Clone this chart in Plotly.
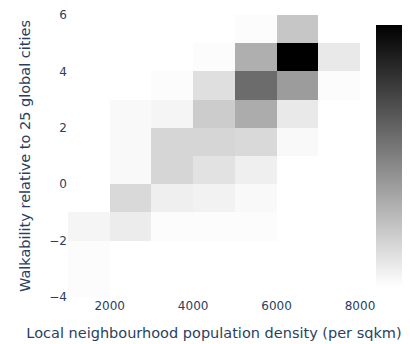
import plotly.graph_objects as go

# Bin centres
density_bins = [1500, 2500, 3500, 4500, 5500, 6500, 7500]
walk_bins = [-3.5, -2.5, -1.5, -0.5, 0.5, 1.5, 2.5, 3.5, 4.5, 5.5]

# Counts per bin (rows = walkability bins bottom->top, cols = density bins)
counts = [
    [1, 0, 0, 0, 0, 0, 0],
    [1, 0, 0, 0, 0, 0, 0],
    [3, 6, 1, 1, 1, 0, 0],
    [0, 12, 5, 4, 2, 0, 0],
    [0, 2, 13, 9, 5, 0, 0],
    [0, 2, 13, 13, 12, 2, 0],
    [0, 2, 3, 16, 26, 7, 0],
    [0, 0, 1, 10, 46, 31, 1],
    [0, 0, 0, 1, 25, 80, 7],
    [0, 0, 0, 0, 1, 18, 0],
]

fig = go.Figure(
    go.Heatmap(
        x=density_bins,
        y=walk_bins,
        z=counts,
        zmin=0,
        colorscale=[[0, "rgb(255,255,255)"], [1, "rgb(0,0,0)"]],
        colorbar=dict(
            thickness=33,
            thicknessmode="pixels",
            x=1.02,
            xanchor="left",
            xpad=10,
            showticklabels=False,
            ticks="",
            outlinewidth=0,
        ),
    )
)

fig.update_layout(
    template="plotly_white",
    width=402,
    height=336,
    margin=dict(l=60, r=50, t=7, b=47, autoexpand=False),
    font=dict(family="Verdana, DejaVu Sans", size=12, color="#2a3f5f"),
    xaxis=dict(
        title=dict(text="Local neighbourhood population density (per sqkm)", font=dict(size=14.5)),
        tickvals=[2000, 4000, 6000, 8000],
        tickfont=dict(size=12),
        showgrid=False,
        zeroline=False,
    ),
    yaxis=dict(
        title=dict(text="Walkability relative to 25 global cities", font=dict(size=14.5)),
        tickvals=[-4, -2, 0, 2, 4, 6],
        tickfont=dict(size=12),
        showgrid=False,
        zeroline=False,
    ),
)

fig.write_html("out.html")
